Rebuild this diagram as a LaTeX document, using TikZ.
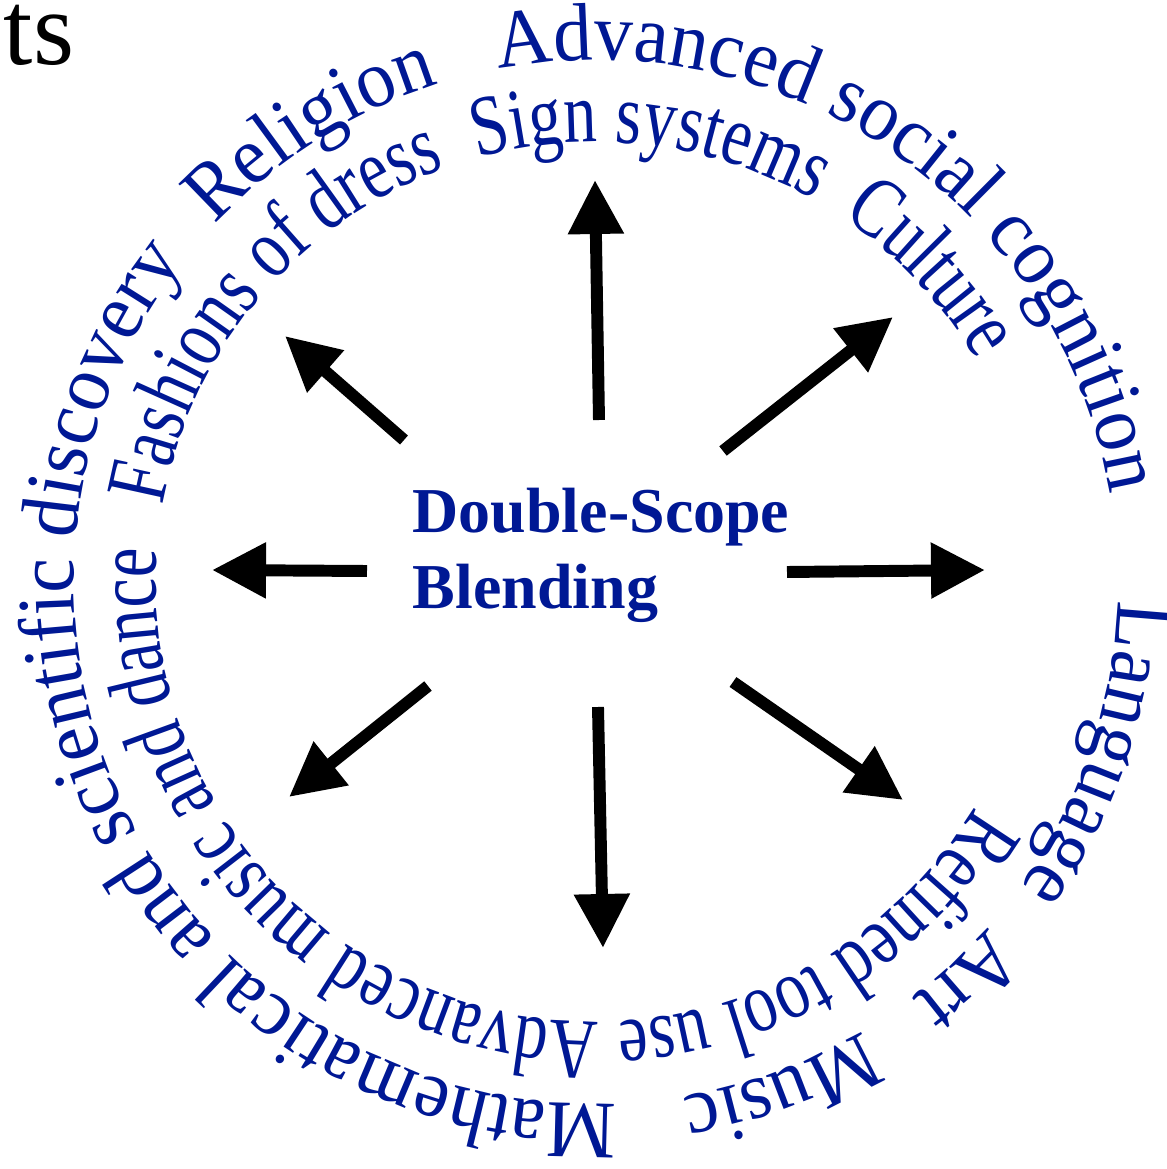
\documentclass[tikz,border=0pt]{standalone}
\usepackage{fontspec}
\setmainfont{Liberation Serif}
\newfontfamily\outerfont[FakeStretch=0.95]{Liberation Serif}
\newfontfamily\innerfont[FakeStretch=0.77]{Liberation Serif}
\usetikzlibrary{arrows.meta,decorations.text}
\definecolor{navy}{RGB}{0,24,148}
\newcommand\outerlook{\outerfont\fontsize{23.3pt}{28pt}\selectfont\color{navy}}
\newcommand\innerlook{\innerfont\fontsize{24.5pt}{29pt}\selectfont\color{navy}}
\tikzset{
  outerring/.style={decorate, decoration={text along path, text align=center, text={|\outerlook|#1}}},
  innerring/.style={decorate, decoration={text along path, text align=center, text={|\innerlook|#1}}},
  ray/.style={line width=3.4pt, -{Triangle[length=0.54cm,width=0.53cm]}},
  blend/.style={inner sep=0pt, anchor=base west, text=navy, font=\bfseries\fontsize{18.2pt}{22pt}\selectfont},
}
\begin{document}
\begin{tikzpicture} % blending wheel
  \useasboundingbox (-5.96,-5.87) rectangle (5.71,5.82);
  \node[anchor=base west, inner sep=0pt, font=\fontsize{30pt}{36pt}\selectfont] (ts) at (-5.93,5.17) {ts};

  \node[blend] (dbl) at (-1.84,0.50) {Double-Scope};
  \node[blend] (blnd) at (-1.84,-0.26) {Blending};

  % outer ring
  \path[outerring={Advanced social cognition}] (115.2:5.22) arc (115.2:-4.8:5.22);
  \path[outerring={Language}] (11.1:5.22) arc (11.1:-48.9:5.22);
  \path[outerring={Art}] (-32.1:5.22) arc (-32.1:-62.1:5.22);
  \path[outerring={Music}] (-49.9:5.22) arc (-49.9:-89.9:5.22);
  \path[outerring={Mathematical and scientific discovery}] (282.2:5.22) arc (282.2:132.2:5.22);
  \path[outerring={Religion}] (147.2:5.22) arc (147.2:97.2:5.22);

  % inner ring
  \path[innerring={Sign systems}] (117.9:4.40) arc (117.9:47.9:4.40);
  \path[innerring={Culture}] (63.1:4.40) arc (63.1:23.1:4.40);
  \path[innerring={Refined tool use}] (-18.9:4.40) arc (-18.9:-98.9:4.40);
  \path[innerring={Advanced music and dance}] (283:4.40) arc (283:163:4.40);
  \path[innerring={Fashions of dress}] (180:4.40) arc (180:100:4.40);

  \coordinate (s1) at (0.03,1.62);   \coordinate (t1) at (-0.01,4.02);
  \coordinate (s2) at (1.27,1.31);   \coordinate (t2) at (2.97,2.65);
  \coordinate (s3) at (1.91,0.10);   \coordinate (t3) at (3.89,0.12);
  \coordinate (s4) at (1.37,-1.00);  \coordinate (t4) at (3.07,-2.18);
  \coordinate (s5) at (0.02,-1.25);  \coordinate (t5) at (0.07,-3.66);
  \coordinate (s6) at (-1.68,-1.04); \coordinate (t6) at (-3.07,-2.15);
  \coordinate (s7) at (-2.29,0.11);  \coordinate (t7) at (-3.84,0.12);
  \coordinate (s8) at (-1.92,1.42);  \coordinate (t8) at (-3.11,2.46);

  \draw[ray] (s1) -- (t1);
  \draw[ray] (s2) -- (t2);
  \draw[ray] (s3) -- (t3);
  \draw[ray] (s4) -- (t4);
  \draw[ray] (s5) -- (t5);
  \draw[ray] (s6) -- (t6);
  \draw[ray] (s7) -- (t7);
  \draw[ray] (s8) -- (t8);
\end{tikzpicture}
\end{document}
